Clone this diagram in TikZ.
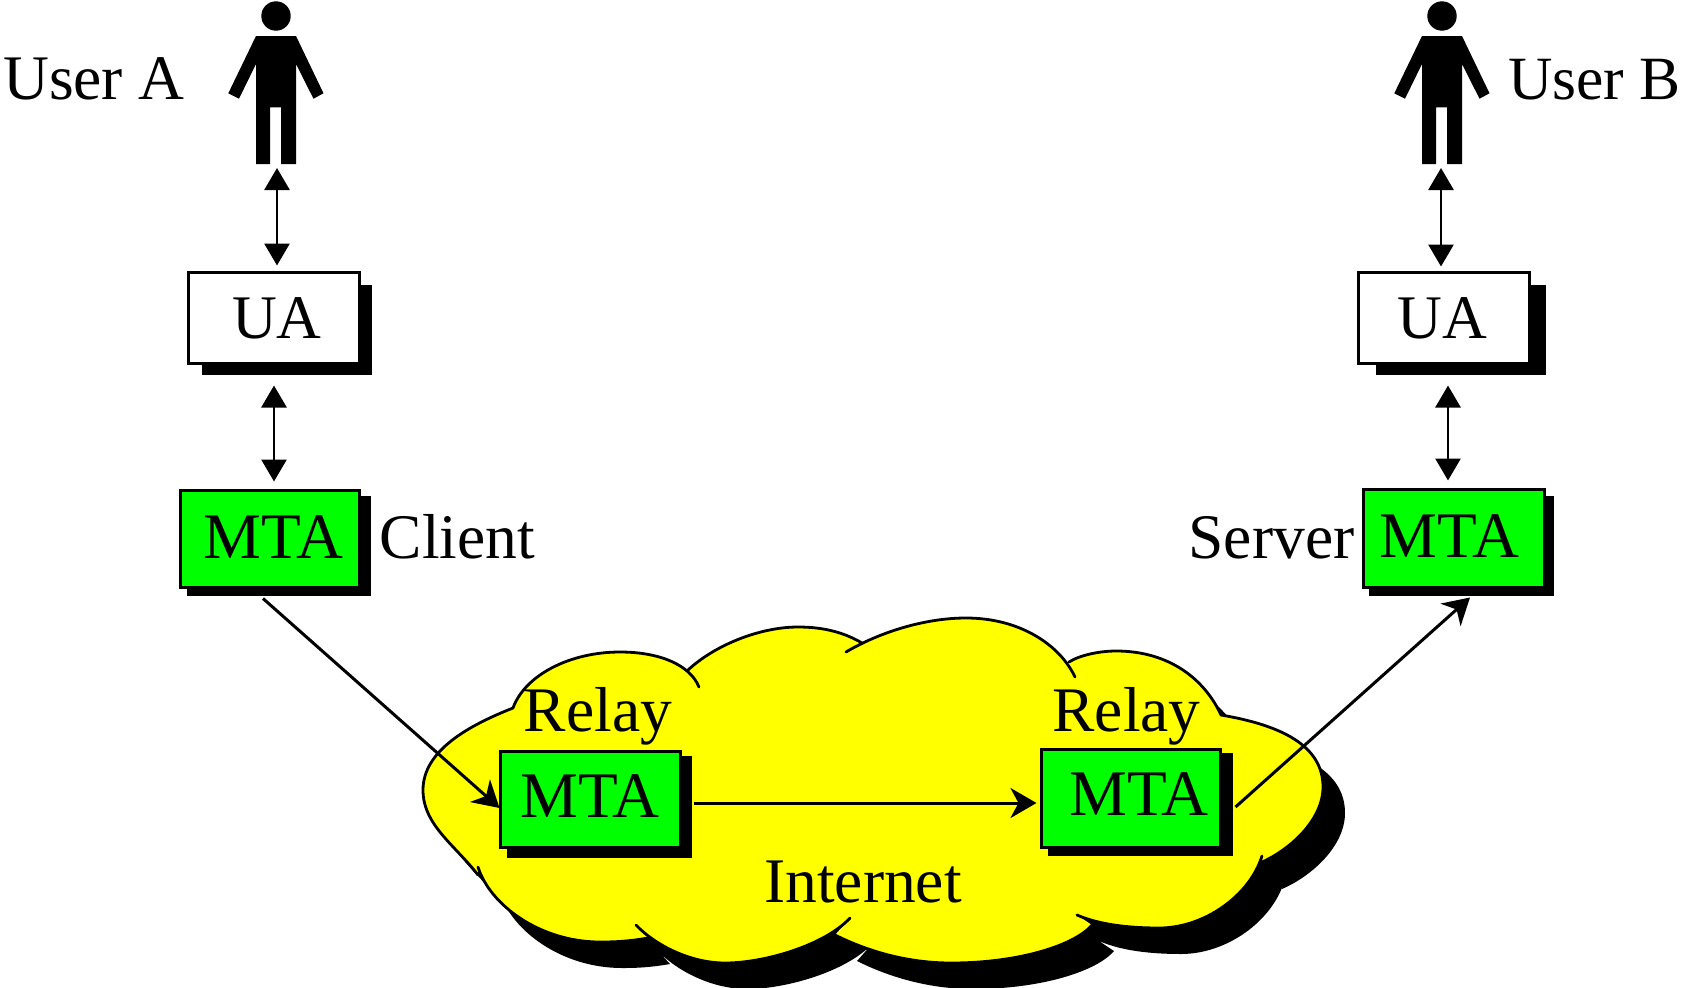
\documentclass[tikz,border=0pt]{standalone}
\usepackage{fontspec}
\setmainfont{Liberation Serif}
\usetikzlibrary{arrows.meta,calc}
\definecolor{cloudyellow}{RGB}{255,255,0}
\definecolor{mtagreen}{RGB}{0,255,0}
\newcommand\lbl[3]{\raisebox{#2pt}[0pt][0pt]{\makebox[0pt][c]{\hspace*{#1pt}#3}}}
\tikzset{
  txt/.style={inner sep=0pt,anchor=base,font=\fontsize{63.5}{70}\selectfont},
  boxbase/.style={draw=black,line width=3pt,inner sep=0pt},
  uabox/.style={boxbase,fill=white,font=\fontsize{62}{70}\selectfont},
  mtabox/.style={boxbase,fill=mtagreen,font=\fontsize{65}{70}\selectfont},
  dbl/.style={line width=2.8pt,{Triangle[length=22pt,width=25pt]}-{Triangle[length=22pt,width=25pt]}},
  arr/.style={line width=3pt,-{Stealth[length=26pt,width=30pt,inset=8pt]}},
  lobe/.style={draw=black,line width=2.8pt,line cap=round},
  person/.pic={
    \fill[black] (0,16) circle (14.7);
    \fill[black] (-20,36) -- (20,36) -- (47.5,93.3) -- (37.5,98.7) -- (20,64) -- (20,164) -- (5,164)
      -- (5,107.3) -- (-6,107.3) -- (-6,164) -- (-20,164) -- (-20,64) -- (-37,98.7) -- (-47.7,93.3) -- cycle;
  }
}
\newcommand\lobeA{(513,708) .. controls (470,725) and (423,750) .. (423,790) .. controls (423,825) and (455,845) .. (478,875)}
\newcommand\lobeArev{(478,875) .. controls (455,845) and (423,825) .. (423,790) .. controls (423,750) and (470,725) .. (513,708)}
\newcommand\lobeB{(513,708) .. controls (525,675) and (570,652) .. (620,652) .. controls (660,652) and (690,665) .. (699,687)}
\newcommand\lobeC{(688,670) .. controls (715,645) and (760,627) .. (798,627) .. controls (825,627) and (845,633) .. (862,643)}
\newcommand\lobeD{(846,652) .. controls (880,632) and (925,618) .. (966,618) .. controls (1020,618) and (1060,645) .. (1075,677)}
\newcommand\lobeE{(1069,662) .. controls (1080,655) and (1100,651) .. (1116,651) .. controls (1170,651) and (1205,680) .. (1221,715)}
\newcommand\lobeF{(1221,715) .. controls (1280,725) and (1323,745) .. (1323,787) .. controls (1323,820) and (1290,850) .. (1260,863)}
\newcommand\lobeG{(1262,856) .. controls (1250,895) and (1205,928) .. (1159,928) .. controls (1130,928) and (1100,925) .. (1077,915)}
\newcommand\lobeH{(1092,925) .. controls (1075,945) and (1020,963) .. (951,963) .. controls (905,963) and (865,950) .. (835,935)}
\newcommand\lobeI{(850,918) .. controls (825,945) and (765,963) .. (725,963) .. controls (690,963) and (655,945) .. (636,925)}
\newcommand\lobeJ{(648,938) .. controls (625,942) and (610,942) .. (600,942) .. controls (540,942) and (490,905) .. (478,867)}
\newcommand\cloudoutline{\lobeB -- \lobeC -- \lobeD -- \lobeE -- \lobeF -- \lobeG -- \lobeH -- \lobeI -- \lobeJ -- \lobeArev -- cycle}
\begin{document}
\begin{tikzpicture}[x=1pt,y=-1pt]
\useasboundingbox (0,0) rectangle (1682,988);
\clip (0,0) rectangle (1682,988);
% cloud
\begin{scope}[shift={(22,26)}]
  \fill[black] \cloudoutline;
\end{scope}
\fill[cloudyellow] \cloudoutline;
\draw[lobe] \lobeA;
\draw[lobe] \lobeB;
\draw[lobe] \lobeC;
\draw[lobe] \lobeD;
\draw[lobe] \lobeE;
\draw[lobe] \lobeF;
\draw[lobe] \lobeG;
\draw[lobe] \lobeH;
\draw[lobe] \lobeI;
\draw[lobe] \lobeJ;
% persons
\pic at (276,0) {person};
\pic at (1442,0) {person};
\coordinate (pa) at (277,168);
\coordinate (pb) at (1441,168);
% box shadows
\fill[black] (202,285) rectangle (372,375);
\fill[black] (187,496) rectangle (371,596);
\fill[black] (1376,285) rectangle (1546,375);
\fill[black] (1369,496) rectangle (1554,596);
\fill[black] (507,756) rectangle (692,858);
\fill[black] (1048,753) rectangle (1233,856);
% boxes
\node[uabox,minimum width=171pt,minimum height=91pt] (ua1) at (273.5,317.5) {\lbl{7}{-21}{UA}};
\node[uabox,minimum width=171pt,minimum height=91pt] (ua2) at (1443.5,317.5) {\lbl{-3}{-21}{UA}};
\node[mtabox,minimum width=179pt,minimum height=97pt] (m1) at (269.5,538.5) {\lbl{8}{-20}{MTA}};
\node[mtabox,minimum width=181pt,minimum height=98pt] (m2) at (1453.5,538) {\lbl{-8}{-19}{MTA}};
\node[mtabox,minimum width=180pt,minimum height=96pt] (r1) at (590,799) {\lbl{0}{-18}{MTA}};
\node[mtabox,minimum width=179pt,minimum height=98pt] (r2) at (1130.5,798) {\lbl{17}{-17}{MTA}};
% labels
\node[txt] (ta) at (94,99) {User A};
\node[txt,font=\fontsize{61.5}{70}\selectfont] (tb) at (1594.5,99) {User B};
\node[txt] (tc) at (457.5,558) {Client};
\node[txt] (ts) at (1271.5,558) {Server};
\node[txt] (t1) at (598,731) {Relay};
\node[txt] (t2) at (1126.5,731) {Relay};
\node[txt] (ti) at (863,902) {Internet};
% connectors
\draw[dbl] (pa) -- ($(ua1.north)+(3.5,-5)$);
\draw[dbl] ($(ua1.south)+(0.5,21)$) -- ($(m1.north)+(4.5,-7)$);
\draw[dbl] (pb) -- ($(ua2.north)+(-2.5,-4)$);
\draw[dbl] ($(ua2.south)+(4.5,21)$) -- ($(m2.north)+(-5.5,-7)$);
\draw[arr] ($(m1.south)+(-6.5,10)$) -- ($(r1.west)+(1,9)$);
\draw[arr] ($(r1.east)+(12,4)$) -- ($(r2.west)+(-3,5)$);
\draw[arr] ($(r2.east)+(14,9)$) -- ($(m2.south)+(16.5,9)$);
\end{tikzpicture}
\end{document}
